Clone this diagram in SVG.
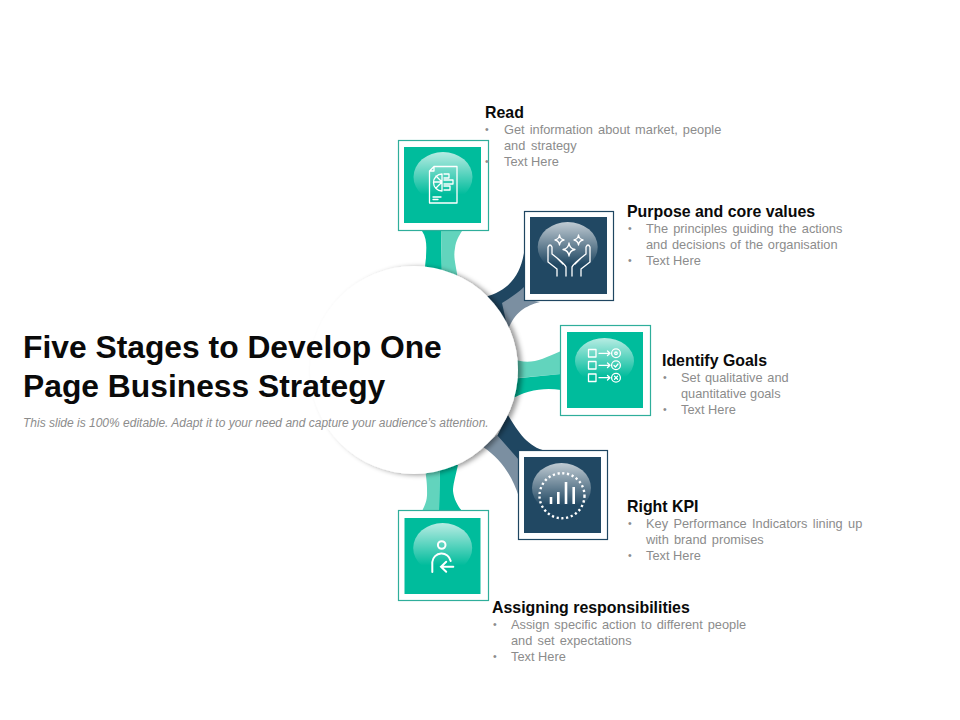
<svg xmlns="http://www.w3.org/2000/svg" width="960" height="720" viewBox="0 0 960 720">
<style>
text{font-family:"Liberation Sans",Arial,sans-serif}
.h{font-size:15.9px;font-weight:700;fill:#0a0a0a}
.b{font-size:12.8px;fill:#8c8c8c}
.d{font-size:10.5px;fill:#8c8c8c}
.t{font-size:31.8px;font-weight:700;fill:#0a0a0a}
.s{font-size:12px;font-style:italic;fill:#8c8c8c}
.ic{fill:none;stroke:#fff;stroke-width:1.3;stroke-linecap:round;stroke-linejoin:round}
.tb{fill:#fff;stroke:#2fae9b;stroke-width:1.2}
.nb{fill:#fff;stroke:#1f4661;stroke-width:1.2}
.ti{fill:#00bc9c}
.ni{fill:#214863}
.g1{fill:#00bc9c}.g2{fill:#62d4bd}.n1{fill:#1f4661}.n2{fill:#7b8fa1}
</style>
<defs>
<linearGradient id="gl" x1="0" y1="0" x2="0" y2="1">
<stop offset="0" stop-color="#fff" stop-opacity=".72"/>
<stop offset=".85" stop-color="#fff" stop-opacity="0"/>
</linearGradient>
<filter id="sh" x="-20%" y="-20%" width="140%" height="140%">
<feDropShadow dx="4" dy="1" stdDeviation="2.5" flood-color="#000" flood-opacity=".4"/>
</filter>
</defs>
<g id="connectors">
<path class="g1" d="M422,231 C428,240 426,250 426,258 C425,265 425,268 425,275 L442,275 L441,231Z"/>
<path class="g2" d="M441,231 L442,280 L458,280 C456,265 453,258 455,248 C456,240 459,236 462,231Z"/>
<path class="n1" d="M524,253 C520,275 510,290 485,297 L505,325 L524,288Z"/>
<path class="n2" d="M502,303 C510,298 518,293 524,287 L529,300 L540,302 C525,306 515,312 508,330Z"/>
<path class="g2" d="M510,358 C530,366 540,360 561,351 L561,374 L518,378Z"/>
<path class="g1" d="M510,379 L561,374 L561,390 C545,387 525,390 510,400Z"/>
<path class="n1" d="M508,415 C518,432 528,447 546,451 L519,462 L497,436Z"/>
<path class="n2" d="M497,435 L519,460 L519,497 C512,475 500,458 483,447Z"/>
<path class="g2" d="M422,511 C428,500 427,495 427,488 C427,482 426,478 425,465 L440,465 L439,511Z"/>
<path class="g1" d="M439,511 L440,465 L458,465 C455,478 453,485 453,491 C454,500 458,506 462,511Z"/>
</g>
<g id="center">
<circle cx="414" cy="370" r="104" fill="#fff" filter="url(#sh)"/>
<text class="t" x="23" y="358">Five Stages to Develop One</text>
<text class="t" x="23" y="397">Page Business Strategy</text>
<text class="s" x="23" y="426.5">This slide is 100% editable. Adapt it to your need and capture your audience’s attention.</text>
</g>
<g id="node-read">
<rect class="tb" x="398.5" y="140.5" width="90" height="90"/>
<rect class="ti" x="404" y="147" width="77" height="76"/>
<ellipse cx="443" cy="177" rx="29.5" ry="25" fill="url(#gl)"/>
<path class="ic" d="M434,166.5 H457 V203 H429.5 V171 Z M434,166.5 V171 H429.5"/>
<path class="ic" d="M442,174 A8.5,8.5 0 0 0 442,191 V174 M442,182 H434 M436,176 L442,182 M436,188 L442,182"/>
<path class="ic" d="M444,174 H449 V178 H444 M444,180 H453 V184 H444 M444,186 H450 V190 H444 M433,197 H441 M433,199.5 H438"/>
<text class="h" x="485" y="118">Read</text>
<text class="d" x="485" y="133">•</text><text class="b" x="504" y="134" word-spacing="1.5">Get information about market, people</text>
<text class="b" x="504" y="150" word-spacing="2.2">and strategy</text>
<text class="d" x="485" y="165">•</text><text class="b" x="504" y="166">Text Here</text>
</g>
<g id="node-purpose">
<rect class="nb" x="524.5" y="211.5" width="89" height="89"/>
<rect class="ni" x="530" y="217" width="77" height="77"/>
<ellipse cx="567.7" cy="247" rx="30" ry="25" fill="url(#gl)"/>
<path class="ic" d="M559.5,235 Q560,239 564,240 Q560,241 559.5,245 Q559,241 555,240 Q559,239 559.5,235 Z M578.5,235 Q579,239 583,240 Q579,241 578.5,245 Q578,241 574,240 Q578,239 578.5,235 Z M569,243 Q569.6,248.500 575,249.500 Q569.600,250.500 569,256 Q568.400,250.500 563,249.500 Q568.400,248.500 569,243 Z"/>
<path class="ic" d="M566,276 V267 Q565,264 552,254 V247 Q550,243 548,247 V262 L557,269 V276 M557,258 L563,264"/>
<path class="ic" d="M572,276 V267 Q573,264 586,254 V247 Q588,243 590,247 V262 L581,269 V276 M581,258 L575,264"/>
<text class="h" x="627" y="217">Purpose and core values</text>
<text class="d" x="628" y="232">•</text><text class="b" x="646" y="233" word-spacing="1.6">The principles guiding the actions</text>
<text class="b" x="646" y="249" word-spacing="1.1">and decisions of the organisation</text>
<text class="d" x="628" y="264">•</text><text class="b" x="646" y="265">Text Here</text>
</g>
<g id="node-goals">
<rect class="tb" x="560.5" y="325.5" width="90" height="90"/>
<rect class="ti" x="567" y="332" width="76" height="76"/>
<ellipse cx="604.5" cy="361" rx="29.5" ry="23" fill="url(#gl)"/>
<g class="ic">
<rect x="588.500" y="349.500" width="7.500" height="7.500"/><path d="M599,353.300 H610 M607.500,351 L610,353.300 L607.500,355.600"/><circle cx="616" cy="353.300" r="4.400"/><circle cx="616" cy="353.300" r="1.300"/>
<rect x="588.500" y="361.500" width="7.500" height="7.500"/><path d="M599,365.300 H610 M607.500,363 L610,365.300 L607.500,367.600"/><circle cx="616" cy="365.300" r="4.400"/><path d="M614,365.500 L615.500,367 L618,364"/>
<rect x="588.500" y="374" width="7.500" height="7.500"/><path d="M599,377.700 H610 M607.500,375.400 L610,377.700 L607.500,380"/><circle cx="616" cy="377.700" r="4.400"/><path d="M614.500,376.200 L617.500,379.200 M617.500,376.200 L614.500,379.200"/>
</g>
<text class="h" x="662" y="366">Identify Goals</text>
<text class="d" x="663" y="381">•</text><text class="b" x="681" y="382" word-spacing="1.2">Set qualitative and</text>
<text class="b" x="681" y="398">quantitative goals</text>
<text class="d" x="663" y="413">•</text><text class="b" x="681" y="414">Text Here</text>
</g>
<g id="node-kpi">
<rect class="nb" x="518.5" y="450.5" width="89" height="89"/>
<rect class="ni" x="524" y="457" width="77" height="76"/>
<ellipse cx="561.5" cy="488" rx="29.5" ry="25" fill="url(#gl)"/>
<circle cx="562" cy="495.700" r="22.500" fill="none" stroke="#fff" stroke-width="2.400" stroke-dasharray="2.200 2.600"/>
<path fill="none" stroke="#fff" stroke-width="2.600" d="M551,504 V497 M558.300,504 V492 M566,504 V482 M573.700,504 V487"/>
<text class="h" x="627" y="512">Right KPI</text>
<text class="d" x="628" y="527">•</text><text class="b" x="646" y="528" word-spacing="1.8">Key Performance Indicators lining up</text>
<text class="b" x="646" y="544" word-spacing="1.6">with brand promises</text>
<text class="d" x="628" y="559">•</text><text class="b" x="646" y="560">Text Here</text>
</g>
<g id="node-assign">
<rect class="tb" x="398.5" y="510.5" width="90" height="90"/>
<rect class="ti" x="404.5" y="518" width="76" height="76"/>
<ellipse cx="442.7" cy="548" rx="29.5" ry="25" fill="url(#gl)"/>
<circle cx="441.7" cy="545" r="3.800" fill="none" stroke="#fff" stroke-width="2"/>
<path fill="none" stroke="#fff" stroke-width="2" stroke-linecap="round" d="M432.300,572 V562 A9.300,9.300 0 0 1 450.700,561 M453.300,566.700 H441 M446.200,561.700 L441,566.700 L446.200,571.700"/>
<text class="h" x="492" y="613">Assigning responsibilities</text>
<text class="d" x="493" y="628">•</text><text class="b" x="511" y="629" word-spacing="1.4">Assign specific action to different people</text>
<text class="b" x="511" y="645" word-spacing="1.6">and set expectations</text>
<text class="d" x="493" y="660">•</text><text class="b" x="511" y="661">Text Here</text>
</g>
</svg>
